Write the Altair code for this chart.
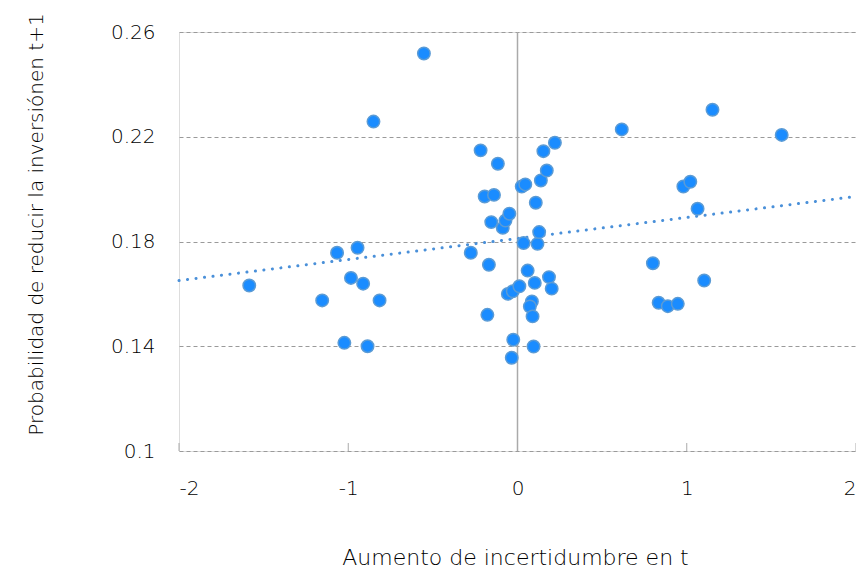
import altair as alt
import pandas as pd

# Data
x_vals = [-1.585, -1.154, -1.066, -1.023, -0.984, -0.945, -0.912, -0.886, -0.851, -0.815, -0.553,
          -0.276, -0.218, -0.194, -0.139, -0.116, -0.155, -0.087, -0.071, -0.048, -0.169, -0.178,
          -0.057, -0.028, 0.011, -0.025, -0.034, 0.095, 0.060, 0.102, 0.186, 0.202, 0.085, 0.073,
          0.089, 0.036, 0.118, 0.128, 0.108, 0.025, 0.046, 0.138, 0.173, 0.153, 0.221,
          0.616, 1.152, 1.561, 0.980, 1.021, 1.064, 0.800, 1.103, 0.834, 0.888, 0.947]
y_vals = [0.1632, 0.1575, 0.1757, 0.1413, 0.1661, 0.1776, 0.1639, 0.1400, 0.2258, 0.1575, 0.2518,
          0.1757, 0.2148, 0.1972, 0.1978, 0.2097, 0.1874, 0.1852, 0.1880, 0.1906, 0.1711, 0.1520,
          0.1600, 0.1610, 0.1629, 0.1425, 0.1356, 0.1399, 0.1689, 0.1642, 0.1664, 0.1620, 0.1571, 0.1552,
          0.1514, 0.1794, 0.1791, 0.1836, 0.1948, 0.2010, 0.2018, 0.2033, 0.2071, 0.2145, 0.2177,
          0.2228, 0.2303, 0.2207, 0.2010, 0.2028, 0.1925, 0.1717, 0.1651, 0.1566, 0.1553, 0.1562]

trend_x = [-2, 2]
trend_y = [0.1651, 0.1972]

x_ticks = [-2, -1, 0, 1, 2]
y_ticks = [0.1, 0.14, 0.18, 0.22, 0.26]

x_title = "Aumento de incertidumbre en t"
y_title = "Probabilidad de reducir la inversiónen t+1"

W, H = 677, 419
FONT = "DejaVu Sans"
WEIGHT = 300
TXT = "#000000"

pts = pd.DataFrame({"x": x_vals, "y": y_vals})
trend = pd.DataFrame({"x": trend_x, "y": trend_y})
ticks = pd.DataFrame({"x": x_ticks})
zero = pd.DataFrame({"x": [0]})

xscale = alt.Scale(domain=[-2, 2], nice=False, zero=False)
yscale = alt.Scale(domain=[0.1, 0.26], nice=False, zero=False)

x_axis = alt.Axis(values=x_ticks, labelExpr="'' + datum.value", grid=False, domain=False, ticks=False,
                  labelPadding=27, labelFontSize=20, labelFont=FONT, labelColor=TXT,
                  labelFontWeight=WEIGHT,
                  title=x_title, titleFont=FONT, titleFontSize=22, titleFontWeight=WEIGHT,
                  titleColor=TXT, titleX=336, titleY=113, titleAlign="center",
                  titleBaseline="alphabetic", titleAnchor="middle")
y_axis = alt.Axis(values=y_ticks, format="~g", grid=True, gridDash=[4, 3], gridColor="#9a9a9a",
                  gridWidth=1, domain=False, ticks=False, labelPadding=24, labelFontSize=20,
                  labelFont=FONT, labelColor=TXT, labelFontWeight=WEIGHT,
                  title=y_title, titleFont=FONT, titleFontSize=20, titleFontWeight=WEIGHT,
                  titleColor=TXT, titleX=-143, titleY=192, titleAngle=-90, titleAlign="center",
                  titleBaseline="middle", titleAnchor="middle")

base_pts = alt.Chart(pts).mark_point(filled=True, size=155, fill="#1a8cff", stroke="#5b9bd5",
                                     strokeWidth=1.5, opacity=1).encode(
    x=alt.X("x:Q", scale=xscale, axis=x_axis),
    y=alt.Y("y:Q", scale=yscale, axis=y_axis),
)

zero_line = alt.Chart(zero).mark_rule(color="#aaaaaa", strokeWidth=1.5).encode(
    x=alt.X("x:Q", scale=xscale),
    y=alt.value(0), y2=alt.value(H),
)

tick_marks = alt.Chart(ticks).mark_rule(color="#aaaaaa", strokeWidth=1).encode(
    x=alt.X("x:Q", scale=xscale),
    y=alt.value(H - 8), y2=alt.value(H),
)

trend_line = alt.Chart(trend).mark_line(color="#4a90d9", strokeWidth=3, strokeDash=[0.1, 8.45],
                                        strokeCap="round").encode(
    x=alt.X("x:Q", scale=xscale),
    y=alt.Y("y:Q", scale=yscale),
)

chart = alt.layer(zero_line, tick_marks, trend_line, base_pts).properties(
    width=W, height=H,
    padding={"left": 171, "top": 24, "right": 0, "bottom": 126},
    autosize=alt.AutoSizeParams(type="none"),
).configure_view(stroke=None).configure(background="white")

chart.save("out.html", embed_options={"renderer": "svg", "actions": False})
